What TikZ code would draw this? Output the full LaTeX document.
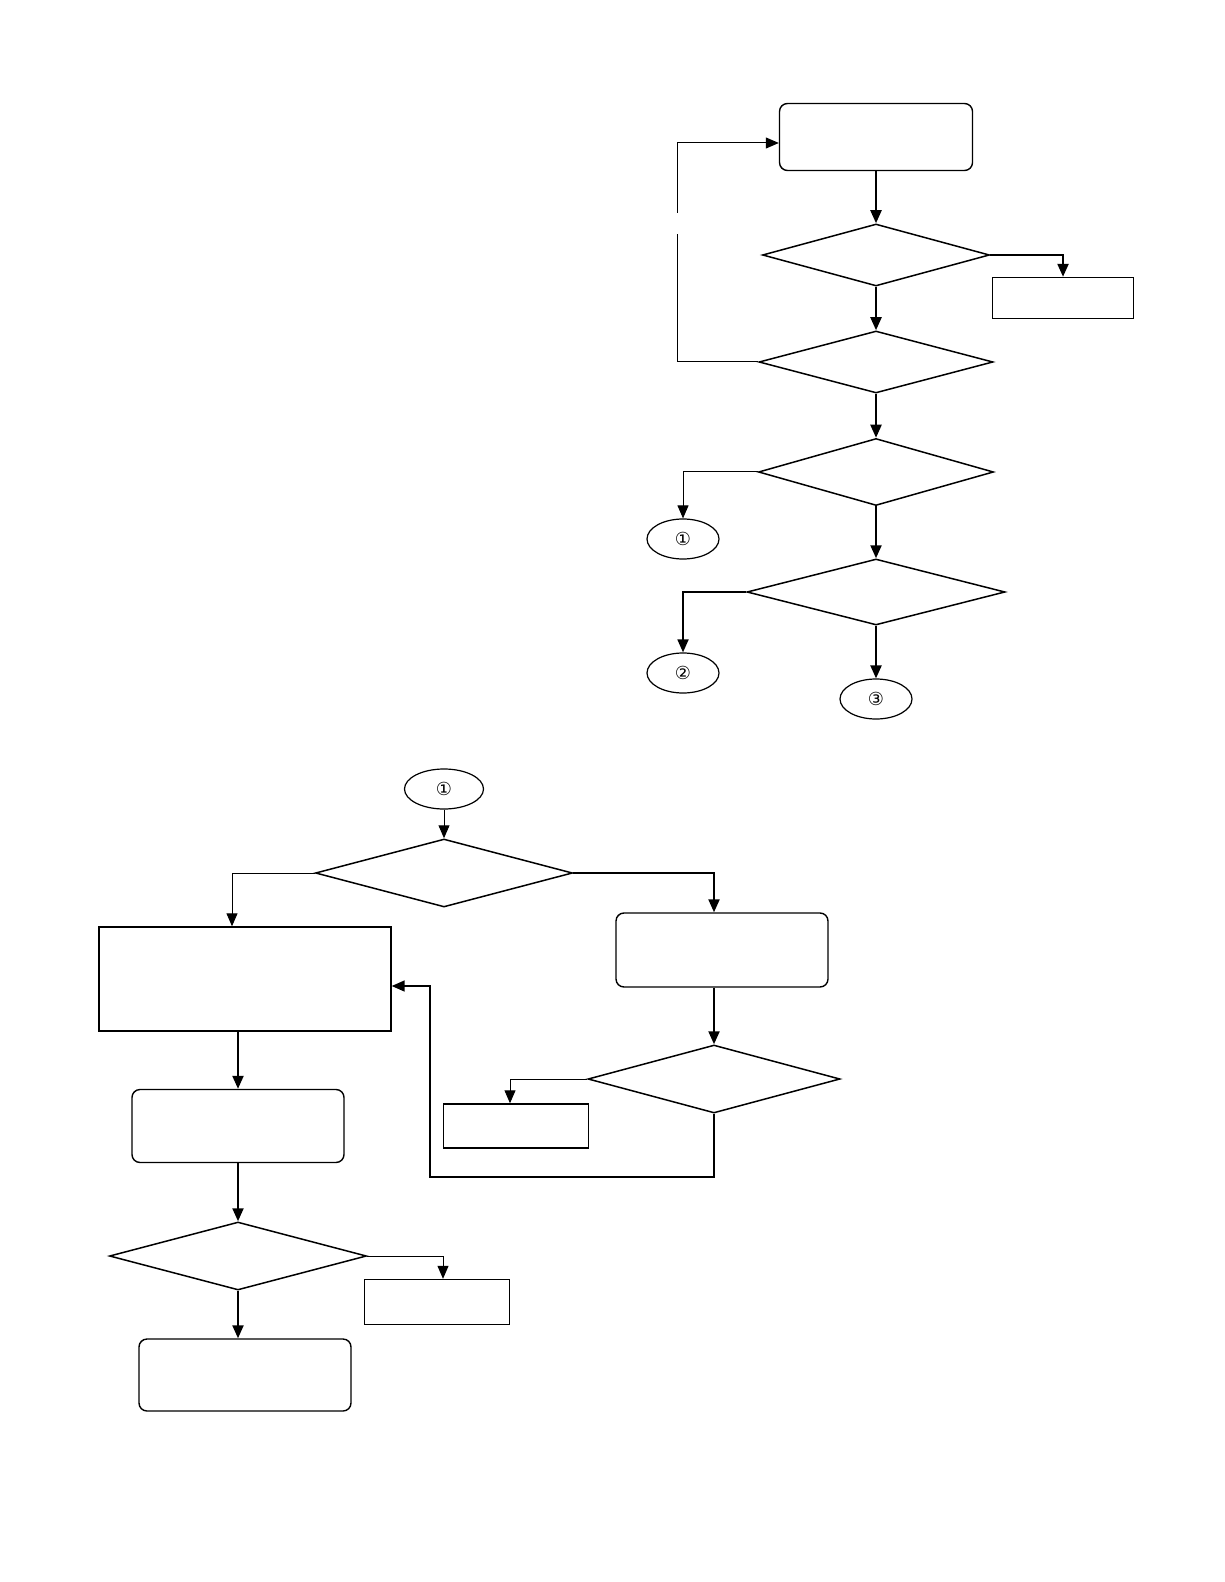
\documentclass[tikz,border=0pt]{standalone}
\usepackage{fontspec}
\newfontfamily\symfont{DejaVu Sans}
\usepackage{tikz}
\usetikzlibrary{arrows.meta,positioning,shapes,calc}

\begin{document}
\begin{tikzpicture}[x=0.5pt,y=-0.5pt,
        box/.style={rectangle, draw, line width=0.7pt, inner sep=0pt},
        rbox/.style={box, rounded corners=4pt},
        dec/.style={diamond, draw, line width=0.75pt, inner sep=0pt},
        conn/.style={ellipse, draw, line width=0.6pt, inner sep=0pt, minimum width=36pt, minimum height=20pt, font=\symfont\fontsize{9}{9}\selectfont},
        arrow/.style={-{Triangle[length=6.5pt,width=5.5pt]}, line width=1.1pt},
        thinarrow/.style={-{Triangle[length=6.5pt,width=5.5pt]}, line width=0.5pt}
    ]
    \useasboundingbox (0,0) rectangle (1224,1582);
    % upper chart
    \node[rbox, minimum width=96.5pt, minimum height=33.5pt] (start) at (876,137) {};
    \node[dec, minimum width=113.5pt, minimum height=31pt] (d1) at (876,255) {};
    \node[box, minimum width=70.5pt, minimum height=20.5pt] (err1) at (1063,298) {};
    \node[dec, minimum width=117pt, minimum height=31pt] (d2) at (876,362) {};
    \node[dec, minimum width=117.5pt, minimum height=33.5pt] (d3) at (876,472) {};
    \node[conn] (c1) at (683,539) {①};
    \node[dec, minimum width=129pt, minimum height=33pt] (d4) at (876,592) {};
    \node[conn] (c2) at (683,673) {②};
    \node[conn] (c3) at (876,699) {③};
    \coordinate (gapt) at (677,213);
    \coordinate (gapb) at (677,234);
    \draw[arrow] (start) -- (d1);
    \draw[arrow] (d1.east) -| (err1.north);
    \draw[arrow] (d1) -- (d2);
    \draw[line width=0.5pt] (d2.west) -| (gapb);
    \draw[thinarrow] (gapt) |- ($(start.west)+(0,6)$);
    \draw[arrow] (d2) -- (d3);
    \draw[thinarrow] (d3.west) -| (c1.north);
    \draw[arrow] (d3) -- (d4);
    \draw[arrow, line width=0.9pt] (d4.west) -| (c2.north);
    \draw[arrow] (d4) -- (c3);
    % lower chart
    \node[conn, minimum width=39.5pt] (c1b) at (444,789) {①};
    \node[dec, minimum width=128.5pt, minimum height=34pt] (d5) at (444,873) {};
    \node[box, minimum width=146pt, minimum height=52pt] (lbox) at (245,979) {};
    \node[rbox, minimum width=106pt, minimum height=37pt] (rbox) at (722,950) {};
    \node[dec, minimum width=126pt, minimum height=34pt] (d6) at (714,1079) {};
    \node[box, minimum width=72.5pt, minimum height=22pt] (sbox) at (516,1126) {};
    \node[rbox, minimum width=106pt, minimum height=36.5pt] (mbox) at (238,1126) {};
    \node[dec, minimum width=128.5pt, minimum height=34pt] (d7) at (238,1256) {};
    \node[box, minimum width=72.5pt, minimum height=22.5pt] (ebox) at (437,1302) {};
    \node[rbox, minimum width=106pt, minimum height=36pt] (endbox) at (245,1375) {};
    \coordinate (loopc) at (430,1177);
    \draw[thinarrow] (c1b) -- (d5);
    \draw[thinarrow] (d5.west) -| ($(lbox.north)+(-13,0)$);
    \draw[arrow] (d5.east) -| (d6.north |- rbox.north);
    \draw[arrow] (rbox.south -| d6.north) -- (d6.north);
    \draw[thinarrow] (d6.west) -| ($(sbox.north)+(-6,0)$);
    \draw[arrow, line width=0.8pt] (d6.south) |- (loopc) |- ($(lbox.east)+(0,7)$);
    \draw[arrow] (lbox.south -| mbox.north) -- (mbox.north);
    \draw[arrow] (mbox) -- (d7);
    \draw[thinarrow] (d7.east) -| ($(ebox.north)+(6,0)$);
    \draw[arrow] (d7.south) -- (d7.south |- endbox.north);
\end{tikzpicture}
\end{document}
